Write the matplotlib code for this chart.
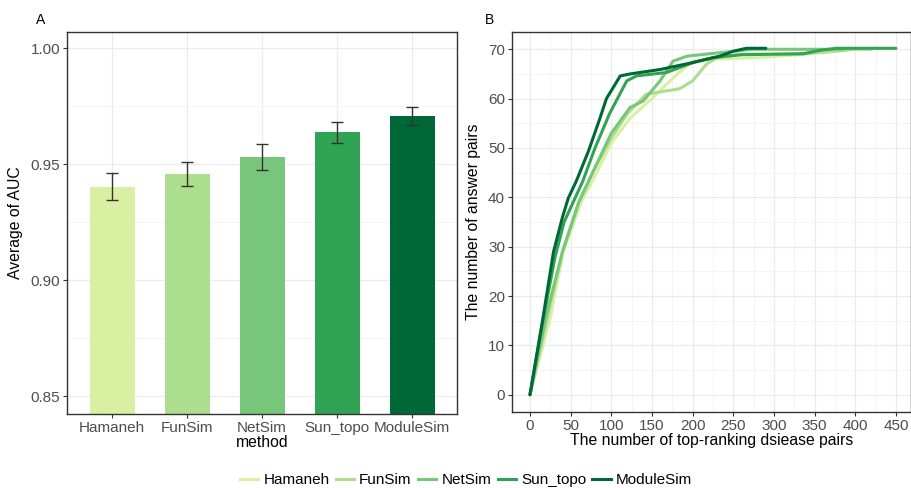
import matplotlib.pyplot as plt
from matplotlib.lines import Line2D
import numpy as np

plt.rcParams['font.family'] = ['Liberation Sans', 'DejaVu Sans']

methods = ["Hamaneh", "FunSim", "NetSim", "Sun_topo", "ModuleSim"]
colors = ["#d9f0a3", "#addd8e", "#78c679", "#31a354", "#006837"]

# panel A: mean AUC with error bars
auc_mean = [0.9403, 0.9457, 0.9530, 0.9636, 0.9707]
auc_err = [0.0060, 0.0050, 0.0055, 0.0045, 0.0037]

# panel B: cumulative answer pairs vs top-ranking pairs
hamaneh_x = [0, 25, 41, 63, 82, 100, 123, 151, 176, 200, 225, 280, 340, 377, 400]
hamaneh_y = [0, 15.6, 29, 39, 45, 51, 56, 60.2, 64.2, 67.6, 68, 68.3, 69, 70, 70]
funsim_x = [0, 22, 40, 60, 80, 100, 120, 143, 165, 184, 200, 217, 230, 260, 330, 370, 400, 420]
funsim_y = [0, 16, 29, 39, 46, 52, 57, 60.9, 61.5, 62, 63.6, 67, 68.3, 69, 69, 69.5, 70, 70]
netsim_x = [0, 20, 40, 60, 77, 100, 123, 139, 160, 176, 193, 233, 274, 385]
netsim_y = [0, 16, 29, 39, 45, 53, 58.2, 59.5, 63.6, 67.6, 68.6, 69.3, 70, 70]
suntopo_x = [0, 17, 31, 42, 52, 65, 80, 98, 119, 131, 168, 200, 225, 260, 336, 357, 377, 450]
suntopo_y = [0, 16, 28, 35, 38.6, 43.3, 50, 57, 63.6, 64.6, 65.3, 67.3, 68.3, 68.9, 69.1, 69.8, 70.2, 70.2]
modsim_x = [0, 16, 29, 40, 47, 57, 72, 86, 94, 111, 123, 160, 200, 233, 250, 266, 290]
modsim_y = [0, 15.6, 29, 36, 39.8, 43.3, 49.4, 56, 60, 64.6, 65, 65.9, 67.3, 68.6, 69.6, 70.2, 70.2]

curves = [(hamaneh_x, hamaneh_y), (funsim_x, funsim_y), (netsim_x, netsim_y),
          (suntopo_x, suntopo_y), (modsim_x, modsim_y)]

fig = plt.figure(figsize=(9.12, 4.88), dpi=100)
W, H = 912, 488
axA = fig.add_axes([67 / W, (H - 414) / H, 390 / W, 382 / H])
axB = fig.add_axes([512 / W, (H - 412) / H, 399 / W, 380 / H])

def style(ax):
    for s in ax.spines.values():
        s.set_color("#333333")
        s.set_linewidth(1.0)
    ax.tick_params(colors="#333333", labelcolor="#4d4d4d", labelsize=11, length=3, width=0.8, pad=2)
    ax.grid(which="major", color="#ebebeb", lw=0.9)
    ax.grid(which="minor", color="#f2f2f2", lw=0.6)
    ax.set_axisbelow(True)

# --- A
xpos = np.arange(1, 6)
axA.bar(xpos, auc_mean, width=0.6, color=colors, zorder=2)
axA.errorbar(xpos, auc_mean, yerr=auc_err, fmt="none", ecolor="#333333",
             elinewidth=1.0, capsize=4.5, capthick=1.0, zorder=3)
axA.set_xlim(0.4, 5.6)
axA.set_ylim(0.8423, 1.0069)
axA.set_yticks([0.85, 0.90, 0.95, 1.00])
axA.set_yticklabels(["0.85", "0.90", "0.95", "1.00"])
axA.set_yticks([0.875, 0.925, 0.975], minor=True)
axA.set_xticks(xpos)
axA.set_xticklabels(methods)
style(axA)
axA.tick_params(axis="y", which="minor", length=0)
axA.set_xlabel("method", fontsize=11.3, labelpad=0)
axA.set_ylabel("Average of AUC", fontsize=11.3, labelpad=5)
fig.text(36 / W, 1 - 20 / H, "A", fontsize=10, ha="left", va="center")

# --- B
for (x, y), c in zip(curves, colors):
    axB.plot(x, y, color=c, lw=2.2, solid_capstyle="round", zorder=2)
axB.set_xlim(-22.1, 468.5)
axB.set_ylim(-3.5, 73.5)
axB.set_xticks(np.arange(0, 451, 50))
axB.set_xticks(np.arange(25, 451, 50), minor=True)
axB.set_yticks(np.arange(0, 71, 10))
axB.set_yticks(np.arange(5, 71, 10), minor=True)
style(axB)
axB.tick_params(which="minor", length=0)
axB.set_xlabel("The number of top-ranking dsiease pairs", fontsize=11.3, labelpad=0)
axB.set_ylabel("The number of answer pairs", fontsize=11.3, labelpad=5)
fig.text(485 / W, 1 - 20 / H, "B", fontsize=10, ha="left", va="center")

handles = [Line2D([], [], color=c, lw=2.2) for c in colors]
fig.legend(handles, methods, loc="center", bbox_to_anchor=(466 / W, 8 / H), ncol=5,
           frameon=False, fontsize=11, handlelength=1.2, handletextpad=0.35,
           columnspacing=0.4)

fig.savefig("out.png", dpi=100)
